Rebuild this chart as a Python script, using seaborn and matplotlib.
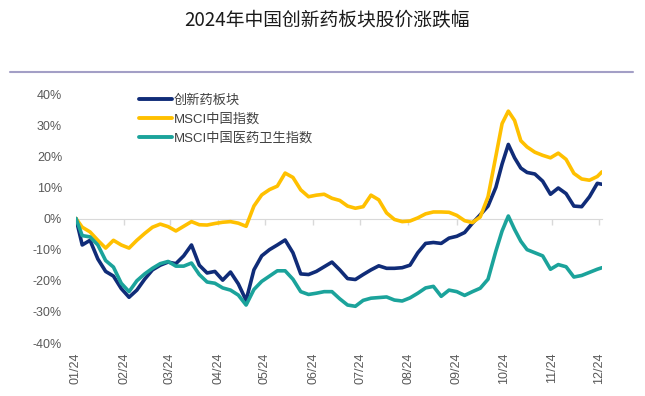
import matplotlib
matplotlib.use("Agg")
import matplotlib.pyplot as plt
import matplotlib.dates as mdates
from matplotlib.lines import Line2D
from matplotlib.ticker import FuncFormatter, NullFormatter
import seaborn as sns
import pandas as pd

title = "2024年中国创新药板块股价涨跌幅"
names = ["创新药板块", "MSCI中国指数", "MSCI中国医药卫生指数"]
colors = ["#102c78", "#ffc000", "#1ba39b"]

dates = [
    "2024-01-01", "2024-01-05", "2024-01-10", "2024-01-15", "2024-01-20", "2024-01-25", "2024-01-30",
    "2024-02-04", "2024-02-09", "2024-02-14", "2024-02-19", "2024-02-24", "2024-02-29",
    "2024-03-05", "2024-03-10", "2024-03-15", "2024-03-20", "2024-03-25", "2024-03-30",
    "2024-04-04", "2024-04-09", "2024-04-14", "2024-04-19", "2024-04-24", "2024-04-29",
    "2024-05-04", "2024-05-09", "2024-05-14", "2024-05-19", "2024-05-24", "2024-05-29",
    "2024-06-03", "2024-06-08", "2024-06-13", "2024-06-18", "2024-06-23", "2024-06-28",
    "2024-07-03", "2024-07-08", "2024-07-13", "2024-07-18", "2024-07-23", "2024-07-28",
    "2024-08-02", "2024-08-07", "2024-08-12", "2024-08-17", "2024-08-22", "2024-08-27",
    "2024-09-01", "2024-09-06", "2024-09-11", "2024-09-16", "2024-09-21", "2024-09-26",
    "2024-09-30", "2024-10-04", "2024-10-08", "2024-10-12", "2024-10-16",
    "2024-10-21", "2024-10-26", "2024-10-31", "2024-11-05", "2024-11-10", "2024-11-15",
    "2024-11-20", "2024-11-25", "2024-11-30", "2024-12-03",
]

# 创新药板块
innov = [
    0, -8.5, -7, -13, -17, -18.5, -22.5, -25.3, -23, -19.5,
    -16.5, -15, -14, -14.5, -12, -8.5, -15, -17.5, -17, -19.8,
    -17.2, -21, -26.3, -16.5, -12, -10, -8.5, -6.9, -11, -17.8,
    -18, -17, -15.5, -14, -16.5, -19.3, -19.6, -18, -16.5, -15.2,
    -16, -16, -15.8, -15, -11, -8, -7.7, -8, -6.3, -5.7,
    -4.5, -1.5, 1.2, 4, 10, 17.5, 23.8, 19.5, 16.2, 14.8,
    14.3, 12, 7.8, 9.8, 8, 4, 3.8, 7, 11.3, 11,
]

# MSCI中国指数
msci_china = [
    0, -2.8, -4.3, -7, -9.5, -7, -8.5, -9.5, -7, -4.8,
    -2.8, -1.8, -2.6, -4, -2.5, -1, -2, -2.1, -1.6, -1.2,
    -1, -1.5, -2.5, 4, 7.6, 9.3, 10.4, 14.6, 13.2, 9.2,
    7, 7.5, 7.8, 6.5, 5.8, 4, 3.3, 3.8, 7.5, 6,
    1.8, -0.3, -1, -0.8, 0.2, 1.5, 2.1, 2.1, 2, 1,
    -0.7, -1.3, 0.5, 7, 20, 30.5, 34.5, 31.5, 25, 23,
    21.3, 20.3, 19.5, 21, 19, 14.5, 12.7, 12.3, 13.5, 15,
]

# MSCI中国医药卫生指数
msci_health = [
    0, -5.5, -5.9, -8.5, -13.5, -15.6, -20.8, -23.5, -20, -17.8,
    -16, -14.5, -13.8, -15.3, -15.3, -14.3, -18, -20.4, -20.8, -22.3,
    -23, -24.6, -27.8, -22.8, -20.2, -18.5, -16.8, -16.8, -19.5, -23.5,
    -24.4, -24, -23.5, -23.5, -25.8, -27.8, -28.2, -26.3, -25.6, -25.4,
    -25.2, -26.2, -26.5, -25.5, -24, -22.3, -21.8, -25, -23, -23.5,
    -24.7, -23.5, -22.4, -19.5, -10.5, -4, 0.8, -3.5, -7.3, -10,
    -11, -12, -16.3, -14.8, -15.5, -18.8, -18.3, -17.3, -16.3, -15.8,
]

df = pd.DataFrame({"date": pd.to_datetime(dates), names[0]: innov,
                   names[1]: msci_china, names[2]: msci_health})
df = df.melt(id_vars="date", var_name="series", value_name="ret")

sns.set_style("white")
plt.rcParams["font.family"] = ["Liberation Sans", "Noto Sans CJK SC"]

fig, ax = plt.subplots(figsize=(6.45, 3.96), dpi=100)
fig.subplots_adjust(left=0.1178, right=0.9333, bottom=0.1338, top=0.7626)

sns.lineplot(data=df, x="date", y="ret", hue="series", hue_order=names,
             palette=dict(zip(names, colors)), linewidth=2.6,
             solid_joinstyle="round", solid_capstyle="round", ax=ax)

ax.set_xlim(pd.Timestamp("2024-01-01"), pd.Timestamp("2024-12-03"))
ax.set_ylim(-40, 40)
ax.set_yticks(range(-40, 41, 10))
ax.yaxis.set_major_formatter(FuncFormatter(lambda v, p: f"{v:.0f}%"))
ax.xaxis.set_major_locator(mdates.MonthLocator())
ax.xaxis.set_major_formatter(mdates.DateFormatter("%m/%y"))
ax.tick_params(axis="x", length=0, labelsize=9, labelcolor="#595959", rotation=90, pad=7)
ax.tick_params(axis="y", length=0, labelsize=9, labelcolor="#595959", pad=10)
ax.set_xlabel("")
ax.set_ylabel("")
sns.despine(ax=ax, left=True, bottom=True)

# zero line with month ticks
sec = ax.secondary_xaxis(0.5)
sec.set_alignment("bottom")
sec.xaxis.set_major_locator(mdates.MonthLocator())
sec.xaxis.set_major_formatter(NullFormatter())
sec.tick_params(axis="x", direction="out", length=4, width=1, color="#d9d9d9")
sec.spines["bottom"].set_color("#d9d9d9")
sec.spines["top"].set_visible(False)

handles, labels = ax.get_legend_handles_labels()
leg = ax.legend(handles, labels, loc="upper left", bbox_to_anchor=(0.12, 0.998),
                frameon=False, fontsize=9.5, handlelength=2.5, handletextpad=0.15,
                labelspacing=0.5, borderpad=0, borderaxespad=0)
for h in leg.get_lines():
    h.set_linewidth(2.8)
for t in leg.get_texts():
    t.set_color("#404040")

fig.text(0.507, 1 - 21 / 396, title, ha="center", va="center", fontsize=13.5,
         color="#1a1a1a", family=["Noto Sans CJK SC", "DejaVu Sans"])
fig.add_artist(Line2D([10 / 645, 633 / 645], [1 - 72 / 396] * 2,
                      transform=fig.transFigure, color="#a39fc6", linewidth=1.5))

fig.savefig("out.png", dpi=100)
